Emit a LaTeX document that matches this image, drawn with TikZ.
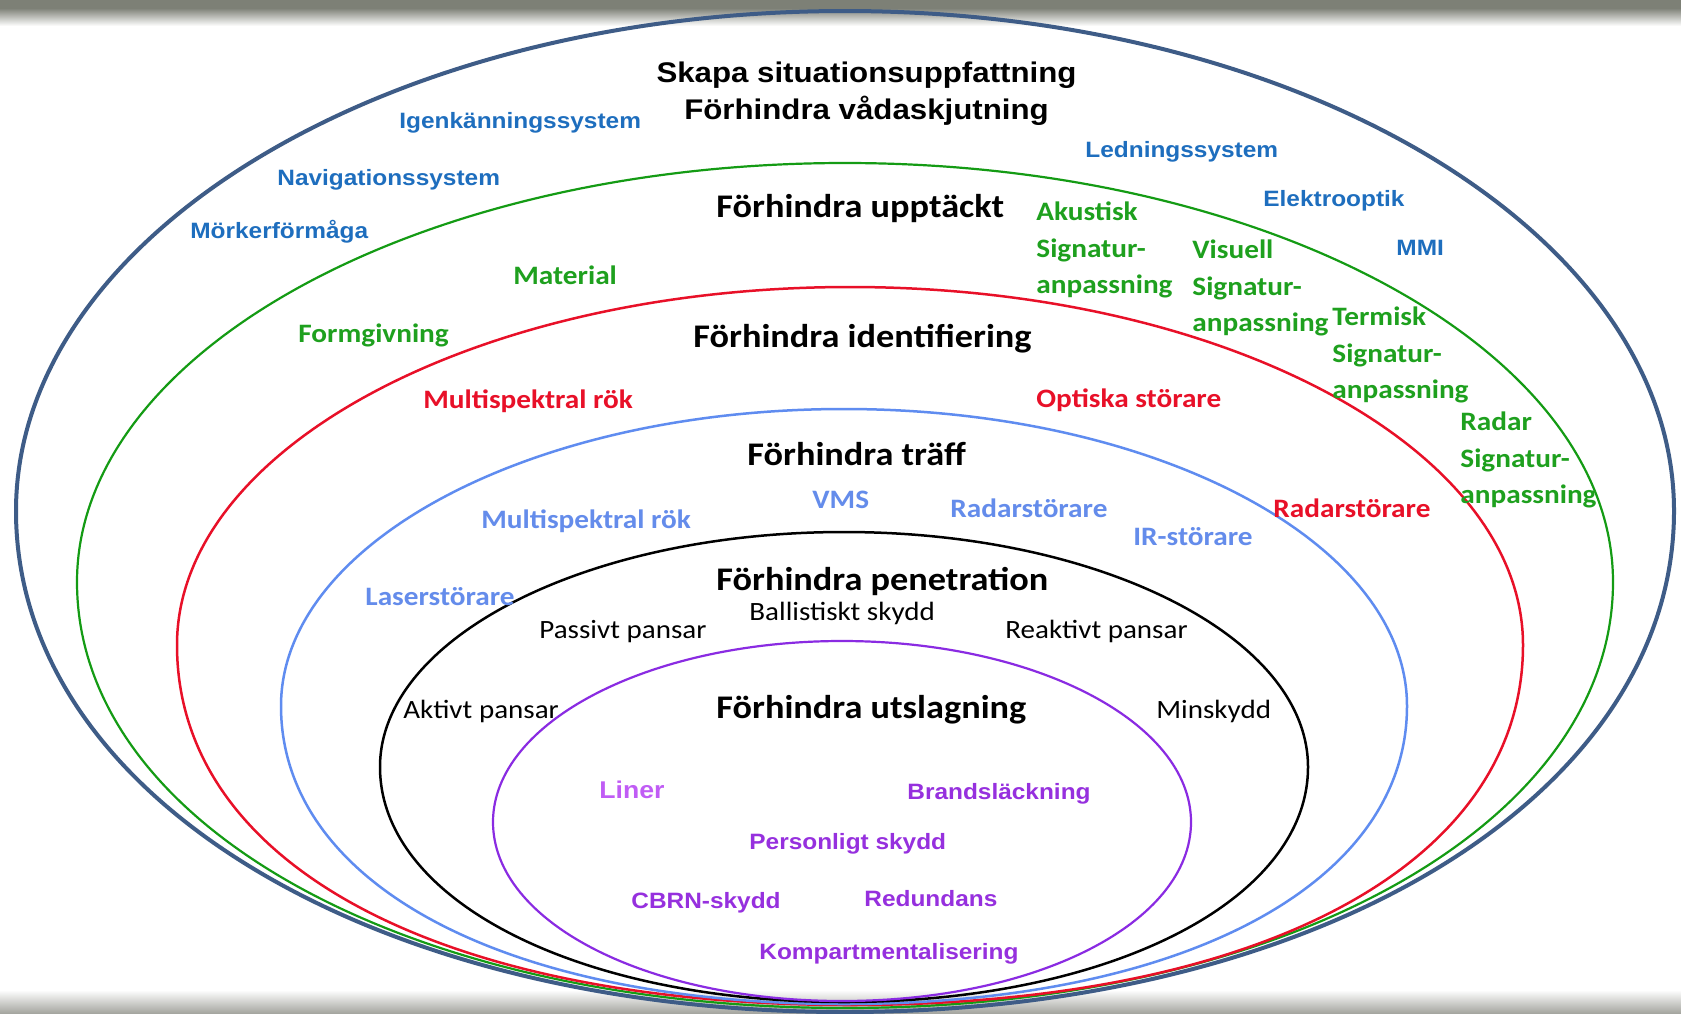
\documentclass[tikz,border=0pt]{standalone}
\usepackage{fontspec}
\newfontfamily\calf[FakeStretch=1.1]{Carlito}
\newfontfamily\arlf[FakeStretch=1.1]{Liberation Sans}
\definecolor{outerc}{RGB}{62,92,135}
\definecolor{greenc}{RGB}{20,155,20}
\definecolor{greent}{RGB}{30,160,30}
\definecolor{redc}{RGB}{232,16,40}
\definecolor{lbluec}{RGB}{95,140,240}
\definecolor{lbluet}{RGB}{100,140,235}
\definecolor{purplec}{RGB}{138,43,226}
\definecolor{purplet}{RGB}{150,48,222}
\definecolor{linerc}{RGB}{192,92,245}
\definecolor{bluet}{RGB}{30,110,190}
\definecolor{bandgray}{RGB}{125,128,118}
\definecolor{bandgrayb}{RGB}{165,166,160}
\begin{document}
\begin{tikzpicture}[x=0.5pt,y=-0.5pt,
  titlefont/.style={font=\arlf\bfseries\fontsize{14.2}{17}\selectfont, anchor=base, inner sep=0pt},
  headfont/.style={font=\calf\bfseries\fontsize{16.5}{20}\selectfont, anchor=base west, inner sep=0pt},
  labfont/.style={font=\calf\bfseries\fontsize{13.3}{16}\selectfont, anchor=base west, inner sep=0pt},
  regfont/.style={font=\calf\fontsize{13.2}{16}\selectfont, anchor=base west, inner sep=0pt},
  arlab/.style={font=\arlf\bfseries\fontsize{11.1}{14}\selectfont, anchor=base west, inner sep=0pt},
  greenlab/.style={labfont, text=greent},
  redlab/.style={labfont, text=redc},
  lbluelab/.style={labfont, text=lbluet},
  bluelab/.style={arlab, text=bluet},
  purplelab/.style={arlab, text=purplet},
  ring/.style={line width=1.25pt}
]
\useasboundingbox (0,0) rectangle (1681,1013);
\fill[white] (0,0) rectangle (1681,1013);
% frame bands
\fill[bandgray] (0,0) rectangle (1681,8);
\shade[top color=bandgray, bottom color=white] (0,8) rectangle (1681,26);
\shade[top color=white, bottom color=bandgrayb] (0,990) rectangle (1681,1013);

% rings (elliptic top, slightly flattened bottom)
\draw[outerc, line width=2pt]
  (16,511) .. controls (16,234.8) and (387.1,11) .. (845,11)
  .. controls (1302.9,11) and (1674,234.8) .. (1674,511)
  .. controls (1674,796.6) and (1317.5,1012) .. (845,1012)
  .. controls (372.5,1012) and (16,796.6) .. (16,511) -- cycle;
\draw[greenc, line width=1.1pt]
  (77,582) .. controls (77,350.6) and (420.8,163) .. (845,163)
  .. controls (1269.2,163) and (1613,350.6) .. (1613,582)
  .. controls (1613,824.8) and (1282.8,1008) .. (845,1008)
  .. controls (407.2,1008) and (77,824.8) .. (77,582) -- cycle;
\draw[redc, ring]
  (177,645) .. controls (177,447.3) and (478.3,287) .. (850,287)
  .. controls (1221.7,287) and (1523,447.3) .. (1523,645)
  .. controls (1523,864.6) and (1260.5,1005) .. (850,1005)
  .. controls (439.5,1005) and (177,864.6) .. (177,645) -- cycle;
\draw[lbluec, ring]
  (281,706) .. controls (281,542) and (533.1,409) .. (844,409)
  .. controls (1154.9,409) and (1407,542) .. (1407,706)
  .. controls (1407,884.8) and (1181.8,1004) .. (844,1004)
  .. controls (506.2,1004) and (281,884.8) .. (281,706) -- cycle;
\draw[black, ring]
  (380,767) .. controls (380,637.2) and (587.7,532) .. (844,532)
  .. controls (1100.3,532) and (1308,637.2) .. (1308,767)
  .. controls (1308,901) and (1108.5,1002) .. (844,1002)
  .. controls (579.5,1002) and (380,901) .. (380,767) -- cycle;
\draw[purplec, line width=1.1pt]
  (493,822) .. controls (493,722) and (649.2,641) .. (842,641)
  .. controls (1034.8,641) and (1191,722) .. (1191,822)
  .. controls (1191,922.2) and (1037.6,1001) .. (842,1001)
  .. controls (646.6,1001) and (493,922.2) .. (493,822) -- cycle;

% headings
\node[titlefont] (t1) at (866.5,82) {Skapa situationsuppfattning};
\node[titlefont] (t2) at (866.5,119) {Förhindra vådaskjutning};
\node[headfont] (h1) at (716,217) {Förhindra upptäckt};
\node[headfont] (h2) at (693,347) {Förhindra identifiering};
\node[headfont] (h3) at (747,465) {Förhindra träff};
\node[headfont] (h4) at (716,590) {Förhindra penetration};
\node[headfont] (h5) at (716,718) {Förhindra utslagning};

% outer ring (blue)
\node[bluelab] (igen) at (399,128) {Igenkänningssystem};
\node[bluelab] (navi) at (277,185) {Navigationssystem};
\node[bluelab] (mork) at (190,238) {Mörkerförmåga};
\node[bluelab] (ledn) at (1085,157) {Ledningssystem};
\node[bluelab] (elek) at (1263,206) {Elektrooptik};
\node[bluelab] (mmi) at (1396,255) {MMI};

% green ring
\node[greenlab] (mate) at (513,284) {Material};
\node[greenlab] (form) at (298,342) {Formgivning};
\node[greenlab] (aku1) at (1036,220) {Akustisk};
\node[greenlab] (aku2) at (1036,257) {Signatur-};
\node[greenlab] (aku3) at (1036,293) {anpassning};
\node[greenlab] (vis1) at (1192,258) {Visuell};
\node[greenlab] (vis2) at (1192,295) {Signatur-};
\node[greenlab] (vis3) at (1192,331) {anpassning};
\node[greenlab] (ter1) at (1332,325) {Termisk};
\node[greenlab] (ter2) at (1332,362) {Signatur-};
\node[greenlab] (ter3) at (1332,398) {anpassning};
\node[greenlab] (rad1) at (1460,430) {Radar};
\node[greenlab] (rad2) at (1460,467) {Signatur-};
\node[greenlab] (rad3) at (1460,503) {anpassning};

% red ring
\node[redlab] (rmul) at (423,408) {Multispektral rök};
\node[redlab] (ropt) at (1036,407) {Optiska störare};
\node[redlab] (rrad) at (1273,517) {Radarstörare};

% light blue ring
\node[lbluelab] (bmul) at (481,528) {Multispektral rök};
\node[lbluelab] (bvms) at (812,508) {VMS};
\node[lbluelab] (brad) at (950,517) {Radarstörare};
\node[lbluelab] (bir) at (1133,545) {IR-störare};
\node[lbluelab] (blas) at (365,605) {Laserstörare};

% black ring
\node[regfont] (ball) at (749,620) {Ballistiskt skydd};
\node[regfont] (pass) at (539,638) {Passivt pansar};
\node[regfont] (reak) at (1005,638) {Reaktivt pansar};
\node[regfont] (akti) at (403,718) {Aktivt pansar};
\node[regfont] (mins) at (1156,718) {Minskydd};

% purple ring
\node[arlab, text=linerc, font=\arlf\bfseries\fontsize{12.1}{14}\selectfont] (line) at (599,798) {Liner};
\node[purplelab] (bran) at (907,799) {Brandsläckning};
\node[purplelab] (pers) at (749,849) {Personligt skydd};
\node[purplelab] (cbrn) at (631,908) {CBRN-skydd};
\node[purplelab] (redu) at (864,906) {Redundans};
\node[purplelab] (komp) at (759,959) {Kompartmentalisering};
\end{tikzpicture}
\end{document}
